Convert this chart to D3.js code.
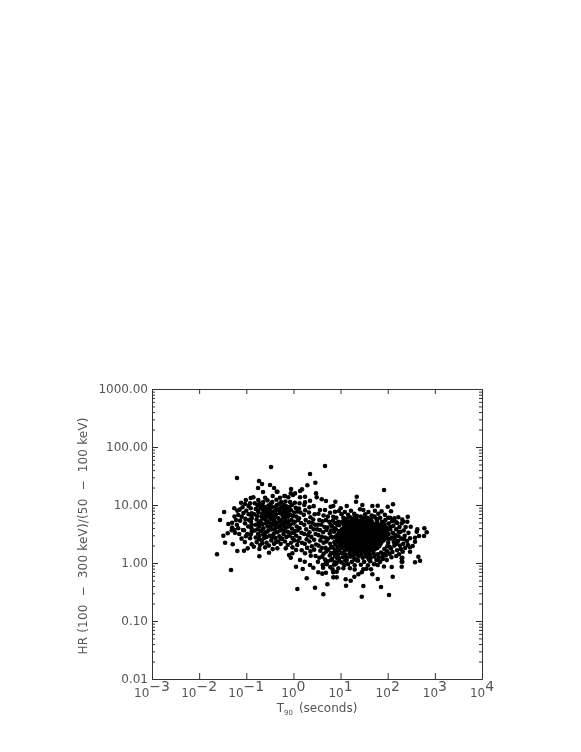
<!DOCTYPE html>
<html>
<head>
<meta charset="utf-8">
<script src="https://cdn.jsdelivr.net/npm/d3@7"></script>
<style>
  html, body { margin: 0; padding: 0; background: #fff; }
  svg { display: block; }
  text { font-family: "DejaVu Sans", sans-serif; fill: #555; }
</style>
</head>
<body>
<div id="chart"></div>
<script>
// Axis values
var xTickExponents = [-3, -2, -1, 0, 1, 2, 3, 4];
var yTickValues = [0.01, 0.1, 1, 10, 100, 1000];
var yTickLabels = ['0.01', '0.10', '1.00', '10.00', '100.00', '1000.00'];

// All points are [log10 T90, log10 HR]
var isolatedHigh = [
  [-.475,1.655],[-1.196,1.466],[-.73,1.414],[-.666,1.362],[-.75,1.293],[-.645,1.224],[-.41,1.293],
  [.67,1.672],[.352,1.534],[.465,1.384],[.295,1.34],[-.496,1.345],[.182,1.27],[.14,1.241],
  [-.05,1.276],[-.057,1.2],[.034,1.2],[-.01,1.172],[-.34,1.229],[.48,1.2],[.494,1.133],
  [.6,1.098],[.69,1.069],[.889,1.057],[-.284,1.126],[-.193,1.155],[-.108,1.133],[.246,1.143],
  [.14,1.133],[.352,1.074],[.246,1.047],[.846,.983],[.79,.97],[.882,.884],[.67,.914],
  [.564,.914],[.776,.867],[.846,.798],[1.922,1.259],[1.343,1.143],[1.328,1.057],[1.131,.983],
  [1.462,1],[1.674,.983],[1.788,.988],[2,.97],[2.113,1.012],[1.003,.943],[.967,.897],
  [1.413,.926],[1.483,.914],[2.07,.891],[2.225,.788],[2.14,.771],[2.331,.712]
];

var isolatedLow = [
  [-1.62,.15],[-1.324,-.12],[-1.45,.35],[-1.288,.322],[-1.19,.207],[-1.048,.212],[-.97,.253],
  [-.723,.241],[-.723,.116],[-.518,.178],[-1.487,.471],[-1.394,.512],[-1.309,.564],[-1.254,.569],
  [-1.048,.564],[.083,-.448],[.458,-.426],[.634,-.54],[.72,-.367],[.282,-.264],[.055,-.064],
  [.197,-.103],[.14,.052],[.24,.022],[.352,-.034],[.422,-.081],[.528,-.16],[.613,-.184],
  [.69,-.167],[.846,-.16],[.621,-.034],[.706,-.022],[.846,-.247],[.918,-.247],[-.341,.253],
  [-.163,.253],[-.093,.138],[-.057,.091],[-.023,.167],[.055,.224],[.176,.219],[.246,.167],
  [.367,.126],[1.449,-.581],[2.028,-.552],[1.483,-.397],[1.858,-.414],[1.116,-.391],[2.106,-.236],
  [1.788,-.276],[1.109,-.281],[1.215,-.305],[1.292,-.236],[1.377,-.195],[1.449,-.16],[1.483,-.109],
  [1.674,-.195],[1.646,-.109],[1.788,-.034],[2.085,-.069],[2.297,-.064],[2.297,.022],[2.297,.081],
  [1.08,-.034],[1.2,-.091],[.952,-.091],[.918,-.15],[1.059,-.091]
];

var rightEdge = [
  [2.425,.798],[2.416,.712],[2.297,.684],[2.488,.626],[2.628,.581],[2.615,.54],[2.777,.598],
  [2.827,.529],[2.77,.466],[2.664,.466],[2.579,.436],[2.473,.426],[2.579,.367],[2.53,.293],
  [2.473,.271],[2.473,.195],[2.318,.195],[2.65,.109],[2.686,.04],[2.579,.012],[2.31,.091],
  [2.31,.022],[2.38,.62],[2.34,.56],[2.44,.52],[2.36,.47],[2.41,.38],[2.33,.33],[2.43,.31],
  [2.29,.42],[2.27,.54],[2.25,.62],[2.2,.69],[2.26,.3],[2.2,.22],[2.24,.15],[2.37,.26],
  [2.18,.58],[2.16,.48],[2.22,.38],[2.14,.3],[2.12,.64],[2.09,.72],[2.18,.12],[2.1,.19],
  [2.31,.75],[2.05,.78],[2.15,.42],[2.07,.25],[2.23,.46],[2.11,.52],[2.19,.33],[2.28,.24],
  [2.13,.36],[2.06,.62],[2.17,.71],[2.24,.53],[2.35,.41],[2.09,.44],[2.04,.16]
];

var shortCluster = [
  [-1.557,.741],[-1.47,.879],[-1.254,.943],[-1.19,.902],[-1.11,1.04],[-1.01,1.085],[-1.027,1.017],
  [-.905,1.12],[-.85,1.133],[-.92,1.029],[-.745,1.086],[-.6,1.126],[-.354,1.229],[-.44,1.155],
  [-.178,1.155],[-1.302,.695],[-1.38,.672],[-1.218,.741],[-1.169,.828],[-1.097,.798],[-1.027,.684],
  [-.92,.426],[-.885,.322],[-.885,.54],[-.885,.655],[-.885,.771],[-.885,.857],[-.906,.943],
  [-.905,.49],[-.89,.6],[-.9,.71],[-.89,.81],[-1.25,.8],[-1.2,.66],[-1.13,.73],[-1.06,.86],
  [-1.14,.92],[-1.08,.96],[-1.02,.76],[-1,.9],[-.96,.63],[-.98,.5],[-.95,.98],[-.82,1.03],
  [-.8,.93],[-.83,.84],[-.78,.75],[-.8,.66],[-.82,.56],[-.8,.44],[-.78,.36],[-.84,.28],
  [-.72,1.03],[-.7,.95],[-.74,.87],[-.68,.8],[-.7,.72],[-.73,.63],[-.69,.55],[-.72,.47],
  [-.67,.39],[-.71,.31],[-.64,1.05],[-.62,.97],[-.61,.89],[-.63,.83],[-.6,.75],[-.58,.68],
  [-.64,.6],[-.6,.52],[-.62,.43],[-.57,.35],[-.6,.27],[-.55,1.08],[-.53,.99],[-.52,.92],
  [-.54,.85],[-.5,.78],[-.52,.7],[-.49,.62],[-.53,.56],[-.5,.47],[-.47,.39],[-.52,.3],
  [-.45,1.05],[-.46,.96],[-.43,.88],[-.44,.81],[-.41,.73],[-.43,.66],[-.4,.58],[-.42,.5],
  [-.38,.43],[-.41,.33],[-.44,.24],[-.36,1.09],[-.35,1],[-.34,.92],[-.37,.84],[-.32,.77],
  [-.35,.69],[-.31,.61],[-.34,.53],[-.3,.46],[-.33,.37],[-.26,1.05],[-.25,.96],[-.27,.89],
  [-.23,.82],[-.26,.74],[-.22,.67],[-.25,.58],[-.21,.5],[-.24,.42],[-.27,.33],[-.17,1.06],
  [-.16,.98],[-.18,.91],[-.14,.84],[-.17,.76],[-.13,.69],[-.16,.61],[-.12,.54],[-.15,.45],
  [-.18,.37],[-.12,.31],[-.07,1.05],[-.08,.97],[-.05,.91],[-.07,.83],[-.04,.74],[-.07,.66],
  [-.03,.59],[-.06,.51],[-.02,.43],[-.05,.35],[-.02,.27],[.03,1.04],[.05,.95],[.02,.87],
  [.06,.8],[.03,.71],[.07,.63],[.03,.55],[.06,.47],[.02,.39],[.08,.31],[.13,1.03],[.12,.94],
  [.15,.87],[.12,.77],[.16,.69],[.13,.6],[.17,.52],[.13,.43],[.18,.35],[-1.17,.6],[-1.3,.61],
  [-1.24,.52],[-1.15,.5],[-1.07,.57],[-1.1,.42],[-1.03,.36],[-1.01,.46],[-.94,.74],[-.95,.84],
  // second pass over the crowded part
  [-.76,.99],[-.75,.9],[-.77,.81],[-.74,.69],[-.76,.58],[-.75,.5],[-.73,.41],[-.66,1],[-.65,.92],
  [-.66,.85],[-.65,.77],[-.66,.67],[-.65,.58],[-.64,.49],[-.66,.34],[-.57,.94],[-.56,.88],[-.57,.8],
  [-.56,.72],[-.55,.63],[-.56,.54],[-.57,.45],[-.48,1.02],[-.48,.89],[-.47,.83],[-.46,.75],[-.47,.67],
  [-.46,.58],[-.45,.44],[-.39,.97],[-.39,.9],[-.39,.8],[-.38,.7],[-.37,.62],[-.38,.54],[-.37,.36],
  [-.3,1.02],[-.3,.94],[-.29,.86],[-.29,.72],[-.28,.65],[-.28,.56],[-.27,.42],[-.21,1],[-.2,.93],
  [-.2,.86],[-.2,.79],[-.19,.7],[-.19,.63],[-.19,.55],[-.12,.95],[-.11,.88],[-.11,.8],[-.1,.72],
  [-.1,.63],[-.09,.47],[-.03,1],[-.01,.81],[0,.68],[.01,.52],[.09,.89],[.1,.74],[.09,.56],[.1,.38]
];

var bridge = [
  [.23,1],[.25,.91],[.22,.83],[.26,.74],[.23,.66],[.27,.58],[.23,.5],[.28,.41],[.24,.33],[.29,.26],
  [.34,.96],[.33,.87],[.36,.79],[.33,.7],[.37,.62],[.34,.53],[.38,.45],[.34,.37],[.39,.29],[.36,.2],
  [.43,.98],[.45,.84],[.42,.75],[.46,.66],[.43,.58],[.47,.5],[.44,.4],[.48,.32],[.44,.23],[.47,.12],
  [.53,.85],[.55,.74],[.52,.66],[.56,.57],[.53,.48],[.57,.39],[.53,.3],[.57,.21],[.55,.09],[.52,.02],
  [.64,.82],[.62,.72],[.66,.62],[.63,.53],[.67,.44],[.64,.35],[.68,.26],[.64,.16],[.67,.06],[.63,-.08],
  [.73,.8],[.76,.71],[.72,.61],[.77,.51],[.73,.42],[.78,.33],[.74,.23],[.77,.13],[.73,.03],[.78,-.07],
  [.84,.73],[.82,.63],[.86,.54],[.83,.44],[.87,.36],[.83,.27],[.86,.17],[.82,.07],[.86,-.03],[.83,-.11],
  [.91,.78],[.93,.66],[.9,.58],[.93,.48],[.91,.38],[.94,.28],[.9,.18],[.93,.08],[.91,-.01],
  // second pass towards the long cluster
  [.59,.66],[.6,.45],[.6,.26],[.61,.11],[.69,.74],[.7,.57],[.7,.37],[.7,.2],[.69,.01],[.79,.66],
  [.8,.56],[.8,.45],[.8,.27],[.8,.17],[.8,.05],[.88,.69],[.88,.6],[.89,.45],[.89,.32],[.88,.23],
  [.88,.12],[.88,.01],[.95,.71],[.96,.52],[.95,.38],[.95,.15],[.96,.03],[.31,.48],[.4,.69],[.5,.58]
];

var longFringe = [
  [1.02,.84],[1.09,.88],[1.16,.83],[1.22,.9],[1.29,.85],[1.35,.81],[1.52,.84],[1.59,.88],[1.66,.82],
  [1.73,.9],[1.8,.85],[1.87,.89],[1.94,.83],[2.01,.78],[1.06,.78],[1.13,.76],[1.2,.79],[1.26,.76],
  [1.43,.8],[1.57,.78],[1.72,.8],[1.84,.78],[1.95,.74],[1.02,.7],[1.09,.68],[1.16,.72],[2.02,.68],
  [1.98,.61],[2.05,.58],[2.02,.5],[2.06,.42],[2.01,.35],[2.04,.28],[1.99,.2],[1.96,.13],[1.9,.07],
  [1.98,.05],[1.84,.02],[1.76,.05],[1.71,-.02],[1.63,.03],[1.58,-.04],[1.5,.02],[1.43,-.03],[1.37,.04],
  [1.3,-.04],[1.24,.02],[1.16,-.02],[1.1,.04],[1.02,.01],[.97,.08],[1.05,.1],[1.13,.09],[1.21,.11],
  [1.29,.08],[1.38,.11],[1.47,.09],[1.55,.11],[1.64,.09],[1.72,.11],[1.81,.09],[1.89,.12],[1.03,.17],
  [.97,.22],[.98,.34],[.96,.44],[.98,.55],[.97,.65],[2.08,.1],[1.92,-.06],[1.55,-.1],[1.3,-.11],
  [1.11,.14],[1.19,.16],[1.27,.14],[1.35,.15],[1.44,.14],[1.53,.15],[1.62,.14],[1.7,.17],[1.79,.15],
  [1.86,.18],[1.94,.16],[1.09,.21],[1.03,.26],[1.01,.3],[1.24,.74],[1.33,.78],[1.5,.78],[1.65,.77],
  [1.78,.74],[1.88,.71],[1.93,.67],[1.98,.55],[2,.42],[1.99,.29],[1.93,.24],[1.13,.05],[1.33,.05],
  [1.6,.06],[1.8,.05],[1.07,.74],[1.3,.82],[1.76,.76]
];

var longCore = [
  [1.3,.74],[1.38,.73],[1.46,.75],[1.54,.73],[1.62,.74],
  [1.14,.69],[1.22,.68],[1.3,.69],[1.37,.68],[1.45,.69],[1.53,.68],[1.61,.69],[1.69,.68],[1.77,.69],
  [1.07,.64],[1.15,.63],[1.23,.64],[1.31,.63],[1.39,.64],[1.47,.63],[1.55,.64],[1.63,.63],[1.71,.64],[1.79,.63],[1.87,.64],
  [1.03,.58],[1.11,.59],[1.19,.58],[1.27,.59],[1.35,.58],[1.43,.59],[1.51,.58],[1.59,.59],[1.67,.58],[1.75,.59],[1.83,.58],[1.91,.59],
  [1,.53],[1.08,.54],[1.16,.53],[1.24,.54],[1.32,.53],[1.4,.54],[1.48,.53],[1.56,.54],[1.64,.53],[1.72,.54],[1.8,.53],[1.88,.54],[1.95,.53],
  [.98,.48],[1.06,.49],[1.14,.48],[1.22,.49],[1.3,.48],[1.38,.49],[1.46,.48],[1.54,.49],[1.62,.48],[1.7,.49],[1.78,.48],[1.86,.49],[1.94,.48],
  [1,.43],[1.08,.44],[1.16,.43],[1.24,.44],[1.32,.43],[1.4,.44],[1.48,.43],[1.56,.44],[1.64,.43],[1.72,.44],[1.8,.43],[1.88,.44],[1.95,.43],
  [1.03,.38],[1.11,.39],[1.19,.38],[1.27,.39],[1.35,.38],[1.43,.39],[1.51,.38],[1.59,.39],[1.67,.38],[1.75,.39],[1.83,.38],[1.91,.39],
  [1.05,.33],[1.13,.34],[1.21,.33],[1.29,.34],[1.37,.33],[1.45,.34],[1.53,.33],[1.61,.34],[1.69,.33],[1.77,.34],[1.85,.33],
  [1.1,.28],[1.18,.29],[1.26,.28],[1.34,.29],[1.42,.28],[1.5,.29],[1.58,.28],[1.66,.29],[1.74,.28],[1.82,.29],
  [1.17,.23],[1.25,.24],[1.33,.23],[1.41,.24],[1.49,.23],[1.57,.24],[1.65,.23],[1.73,.24],
  [1.28,.18],[1.36,.19],[1.44,.18],[1.52,.19],[1.6,.18]
];

// the same dense blob again, between the rows above
var longCoreGaps = [
  [1.26,.715],[1.34,.71],[1.42,.71],[1.5,.715],[1.58,.71],[1.66,.715],[1.18,.66],[1.26,.655],[1.34,.66],
  [1.42,.655],[1.5,.66],[1.58,.655],[1.67,.66],[1.75,.66],[1.83,.665],[1.11,.61],[1.19,.61],[1.27,.615],
  [1.35,.61],[1.43,.61],[1.51,.61],[1.59,.615],[1.67,.61],[1.75,.61],[1.83,.61],[1.9,.62],[1.04,.56],
  [1.12,.56],[1.2,.555],[1.28,.56],[1.36,.555],[1.44,.56],[1.52,.555],[1.6,.56],[1.68,.555],[1.76,.56],
  [1.84,.555],[1.92,.56],[1.02,.51],[1.1,.51],[1.18,.505],[1.26,.51],[1.34,.505],[1.42,.51],[1.5,.505],
  [1.58,.51],[1.66,.505],[1.74,.51],[1.82,.505],[1.9,.51],[1.97,.51],[1.02,.46],[1.1,.46],[1.18,.455],
  [1.26,.46],[1.34,.455],[1.42,.46],[1.5,.455],[1.58,.46],[1.66,.455],[1.74,.46],[1.82,.455],[1.9,.46],
  [1.97,.46],[1.04,.41],[1.12,.41],[1.2,.405],[1.28,.41],[1.36,.405],[1.44,.41],[1.52,.405],[1.6,.41],
  [1.68,.405],[1.76,.41],[1.84,.405],[1.92,.41],[1.07,.36],[1.15,.36],[1.23,.355],[1.31,.36],[1.39,.355],
  [1.47,.36],[1.55,.355],[1.63,.36],[1.71,.355],[1.79,.36],[1.87,.36],[1.09,.31],[1.17,.31],[1.25,.305],
  [1.33,.31],[1.41,.305],[1.49,.31],[1.57,.305],[1.65,.31],[1.73,.305],[1.81,.31],[1.14,.26],[1.22,.255],
  [1.3,.26],[1.38,.255],[1.46,.26],[1.54,.255],[1.62,.26],[1.7,.255],[1.78,.26],[1.21,.21],[1.29,.205],
  [1.37,.21],[1.45,.205],[1.53,.21],[1.61,.205],[1.69,.21]
];

// Set dimensions and margins
var margin = { top: 389, right: 99, bottom: 73, left: 152 };
var width = 581 - margin.left - margin.right;
var height = 752 - margin.top - margin.bottom;

var root = d3.select('#chart')
  .append('svg')
  .attr('width', 581)
  .attr('height', 752);

// reference is slightly soft, like a resampled bitmap
root.append('filter')
  .attr('id', 'soft')
  .append('feGaussianBlur')
  .attr('stdDeviation', 0.35);

var svg = root.append('g')
  .attr('filter', 'url(#soft)')
  .append('g')
  .attr('transform', 'translate(' + margin.left + ',' + margin.top + ')');

var xScale = d3.scaleLog().domain([1e-3, 1e4]).range([0, width]);
var yScale = d3.scaleLog().domain([0.01, 1000]).range([height, 0]);

var xMajor = xTickExponents.map(function(e) { return Math.pow(10, e); });
var yMinor = yScale.ticks().filter(function(v) { return !yTickValues.some(function(t) { return Math.abs(t - v) < t * 1e-6; }); });

function styleAxis(g) {
  g.select('.domain').attr('stroke', '#333');
  g.selectAll('.tick line').attr('stroke', '#333');
  g.selectAll('.tick text').remove();
}

// X axes, bottom and top, ticks only at the decades
svg.append('g')
  .attr('transform', 'translate(0,' + height + ')')
  .call(d3.axisBottom(xScale).tickValues(xMajor).tickSize(-6).tickSizeOuter(0))
  .call(styleAxis);
svg.append('g')
  .call(d3.axisTop(xScale).tickValues(xMajor).tickSize(-5).tickSizeOuter(0))
  .call(styleAxis);

// Y axes, major and minor
svg.append('g')
  .call(d3.axisLeft(yScale).tickValues(yTickValues).tickSize(-6).tickSizeOuter(0))
  .call(styleAxis);
svg.append('g')
  .call(d3.axisLeft(yScale).tickValues(yMinor).tickSize(-3).tickSizeOuter(0))
  .call(styleAxis);
svg.append('g')
  .attr('transform', 'translate(' + width + ',0)')
  .call(d3.axisRight(yScale).tickValues(yTickValues).tickSize(-6).tickSizeOuter(0))
  .call(styleAxis);
svg.append('g')
  .attr('transform', 'translate(' + width + ',0)')
  .call(d3.axisRight(yScale).tickValues(yMinor).tickSize(-3).tickSizeOuter(0))
  .call(styleAxis);

// Y tick labels
svg.selectAll('.ylabel')
  .data(yTickValues)
  .enter().append('text')
  .attr('class', 'ylabel')
  .attr('x', -4)
  .attr('y', function(d) { return yScale(d) + 4; })
  .attr('text-anchor', 'end')
  .style('font-size', '12px')
  .text(function(d, i) { return yTickLabels[i]; });

// X tick labels, 10 with a raised exponent
var xLabels = svg.selectAll('.xlabel')
  .data(xTickExponents)
  .enter().append('text')
  .attr('class', 'xlabel')
  .attr('x', function(d) { return xScale(Math.pow(10, d)); })
  .attr('y', height + 18)
  .attr('text-anchor', 'middle')
  .style('font-size', '12px');
xLabels.append('tspan').text('10');
xLabels.append('tspan')
  .attr('dy', -6)
  .style('font-size', '14px')
  .text(function(d) { return d < 0 ? '\u2212' + (-d) : d; });

// X title
var xTitle = svg.append('text')
  .attr('x', width / 2)
  .attr('y', height + 33)
  .attr('text-anchor', 'middle')
  .style('font-size', '12px');
xTitle.append('tspan').text('T');
xTitle.append('tspan').attr('dy', 3).style('font-size', '7px').text('90');
xTitle.append('tspan').attr('dy', -3).attr('dx', 6).text('(seconds)');

// Y title
svg.append('text')
  .attr('transform', 'rotate(-90)')
  .attr('x', -height / 2 - 2)
  .attr('y', -65)
  .attr('text-anchor', 'middle')
  .attr('textLength', 237)
  .style('font-size', '12px')
  .style('white-space', 'pre')
  .text('HR (100  \u2212  300 keV)/(50  \u2212  100 keV)');

// Points
var allPoints = isolatedHigh.concat(isolatedLow, rightEdge, shortCluster, bridge, longFringe, longCore, longCoreGaps);

svg.selectAll('circle')
  .data(allPoints)
  .enter().append('circle')
  .attr('cx', function(d) { return xScale(Math.pow(10, d[0])); })
  .attr('cy', function(d) { return yScale(Math.pow(10, d[1])); })
  .attr('r', 2.3)
  .attr('fill', '#000');
</script>
</body>
</html>
